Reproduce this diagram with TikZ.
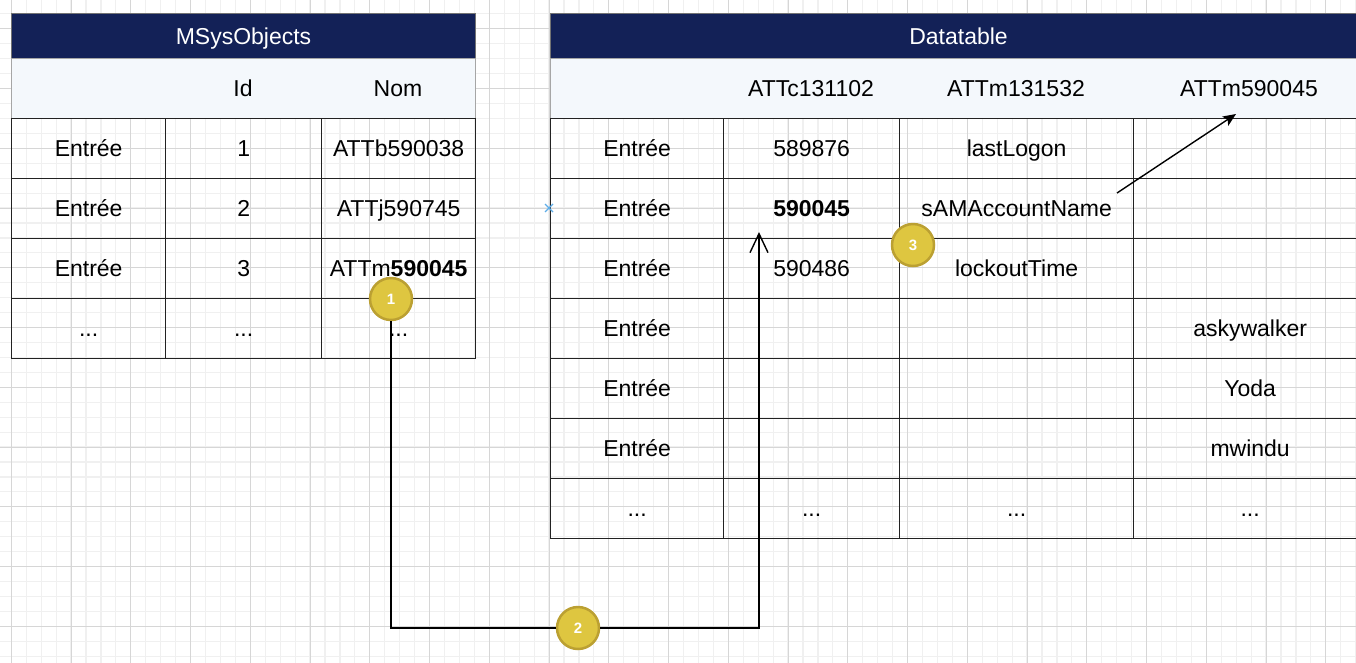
\documentclass[tikz,border=0pt]{standalone}
\usepackage{fontspec}
\setmainfont{Liberation Sans}
\usetikzlibrary{arrows.meta}

\definecolor{navy}{HTML}{132157}
\definecolor{headfill}{HTML}{F4F8FC}
\definecolor{badgefill}{HTML}{DEC640}
\definecolor{badgeline}{HTML}{BBA032}
\definecolor{rule}{HTML}{222222}
\definecolor{gridmajor}{HTML}{D6D6D6}
\definecolor{gridminor}{HTML}{F0F0F0}
\definecolor{selmark}{HTML}{5DADE8}

\begin{document}
\begin{tikzpicture}
	[
		x = 1pt, y = -1pt,
		font = \fontsize{23}{27}\selectfont,
		every node/.append style = {text height=16.5pt, text depth=0pt},
		title/.style = {draw=black!55, line width=1pt, fill=navy, text=white, anchor=north west, inner sep=0pt, minimum height=45pt},
		colhead/.style = {draw=black!35, line width=1pt, fill=headfill, anchor=north west, inner sep=0pt, minimum height=60pt},
		cell/.style = {draw=rule, line width=1.3pt, anchor=north west, inner sep=0pt, minimum height=60pt},
		leftA/.style = {cell, minimum width=154pt},
		leftB/.style = {cell, minimum width=156pt},
		leftC/.style = {cell, minimum width=154pt},
		rightA/.style = {cell, minimum width=173pt},
		rightB/.style = {cell, minimum width=176pt},
		rightC/.style = {cell, minimum width=234pt},
		rightD/.style = {cell, minimum width=233pt},
		badge/.style = {circle, fill=badgefill, draw=badgeline, line width=2.5pt, minimum size=42pt, inner sep=0pt, text height=10.5pt, text=white, font=\bfseries\fontsize{15}{15}\selectfont},
		link/.style = {draw=black, line width=1.4pt}
	]

	\useasboundingbox (0,0) rectangle (1356,662);
	\clip (0,0) rectangle (1356,662);

	% paper grid
	\begin{scope}[shift={(11.3pt,-28.8pt)}]
		\draw[gridminor, line width=1.2pt, step=14.9375pt] (-20pt,40pt) grid (1360pt,-650pt);
		\draw[gridmajor, line width=0.8pt, step=59.75pt] (-20pt,40pt) grid (1360pt,-650pt);
	\end{scope}

	% MSysObjects
	\node[title, minimum width=464pt] (msys) at (11,13) {MSysObjects};
	\node[colhead, minimum width=464pt] (msyshead) at (11,58) {};
	\node (msysid) at (243,88) {Id};
	\node (msysnom) at (398,88) {Nom};

	\node[leftA] (msys1a) at (11,118) {Entrée};
	\node[leftB] (msys1b) at (165,118) {1};
	\node[leftC] (msys1c) at (321,118) {ATTb590038};
	\node[leftA] (msys2a) at (11,178) {Entrée};
	\node[leftB] (msys2b) at (165,178) {2};
	\node[leftC] (msys2c) at (321,178) {ATTj590745};
	\node[leftA] (msys3a) at (11,238) {Entrée};
	\node[leftB] (msys3b) at (165,238) {3};
	\node[leftC] (msys3c) at (321,238) {ATTm\textbf{590045}};
	\node[leftA] (msys4a) at (11,298) {...};
	\node[leftB] (msys4b) at (165,298) {...};
	\node[leftC] (msys4c) at (321,298) {...};

	% Datatable
	\node[title, minimum width=816pt] (data) at (550,13) {Datatable};
	\node[colhead, minimum width=816pt] (datahead) at (550,58) {};
	\node (datac) at (811,88) {ATTc131102};
	\node (datamA) at (1016,88) {ATTm131532};
	\node (datamB) at (1249,88) {ATTm590045};

	\node[rightA] (data1a) at (550,118) {Entrée};
	\node[rightB] (data1b) at (723,118) {589876};
	\node[rightC] (data1c) at (899,118) {lastLogon};
	\node[rightD] (data1d) at (1133,118) {};
	\node[rightA] (data2a) at (550,178) {Entrée};
	\node[rightB] (data2b) at (723,178) {\textbf{590045}};
	\node[rightC] (data2c) at (899,178) {sAMAccountName};
	\node[rightD] (data2d) at (1133,178) {};
	\node[rightA] (data3a) at (550,238) {Entrée};
	\node[rightB] (data3b) at (723,238) {590486};
	\node[rightC] (data3c) at (899,238) {lockoutTime};
	\node[rightD] (data3d) at (1133,238) {};
	\node[rightA] (data4a) at (550,298) {Entrée};
	\node[rightB] (data4b) at (723,298) {};
	\node[rightC] (data4c) at (899,298) {};
	\node[rightD] (data4d) at (1133,298) {askywalker};
	\node[rightA] (data5a) at (550,358) {Entrée};
	\node[rightB] (data5b) at (723,358) {};
	\node[rightC] (data5c) at (899,358) {};
	\node[rightD] (data5d) at (1133,358) {Yoda};
	\node[rightA] (data6a) at (550,418) {Entrée};
	\node[rightB] (data6b) at (723,418) {};
	\node[rightC] (data6c) at (899,418) {};
	\node[rightD] (data6d) at (1133,418) {mwindu};
	\node[rightA] (data7a) at (550,478) {...};
	\node[rightB] (data7b) at (723,478) {...};
	\node[rightC] (data7c) at (899,478) {...};
	\node[rightD] (data7d) at (1133,478) {...};

	% steps
	\node[badge] (b1) at (391,299) {1};
	\node[badge] (b2) at (578,628) {2};
	\node[badge] (b3) at (913,245) {3};

	\coordinate (idtip) at (759,232);
	\coordinate (samtail) at (1117,193);
	\coordinate (attmfoot) at (1236,114);

	\draw[link] (b1) |- (b2);
	\draw[link, -{Straight Barb[length=19pt,width=18pt]}] (b2) -| (idtip);
	\draw[link, -{Stealth[length=13pt,width=11pt,inset=3pt]}] (samtail) -- (attmfoot);

	% selection mark
	\draw[selmark, line width=1.2pt] (545,204) -- (553,212) (545,212) -- (553,204);
\end{tikzpicture}
\end{document}
